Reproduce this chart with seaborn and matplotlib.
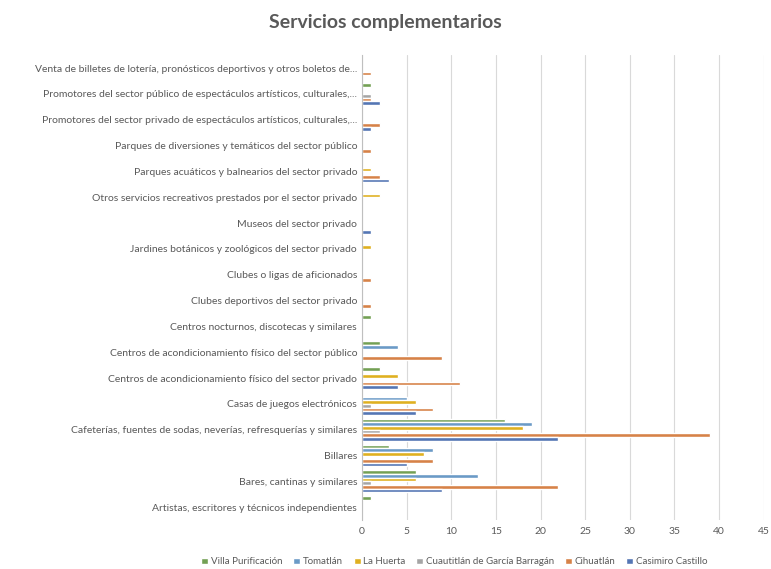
import pandas as pd
import seaborn as sns
import matplotlib.pyplot as plt

# categories, top to bottom
categorias = [
    "Venta de billetes de lotería, pronósticos deportivos y otros boletos de...",
    "Promotores del sector público de espectáculos artísticos, culturales,...",
    "Promotores del sector privado de espectáculos artísticos, culturales,...",
    "Parques de diversiones y temáticos del sector público",
    "Parques acuáticos y balnearios del sector privado",
    "Otros servicios recreativos prestados por el sector privado",
    "Museos del sector privado",
    "Jardines botánicos y zoológicos del sector privado",
    "Clubes o ligas de aficionados",
    "Clubes deportivos del sector privado",
    "Centros nocturnos, discotecas y similares",
    "Centros de acondicionamiento físico del sector público",
    "Centros de acondicionamiento físico del sector privado",
    "Casas de juegos electrónicos",
    "Cafeterías, fuentes de sodas, neverías, refresquerías y similares",
    "Billares",
    "Bares, cantinas y similares",
    "Artistas, escritores y técnicos independientes",
]

villa_purificacion = [0, 1, 0, 0, 0, 0, 0, 0, 0, 0, 1, 2, 2, 0, 16, 3, 6, 1]
tomatlan =           [0, 0, 0, 0, 0, 0, 0, 0, 0, 0, 0, 4, 0, 5, 19, 8, 13, 0]
la_huerta =          [0, 0, 0, 0, 1, 2, 0, 1, 0, 0, 0, 0, 4, 6, 18, 7, 6, 0]
cuautitlan =         [0, 1, 0, 0, 0, 0, 0, 0, 0, 0, 0, 0, 0, 1, 2, 0, 1, 0]
cihuatlan =          [1, 1, 2, 1, 2, 0, 0, 0, 1, 1, 0, 9, 11, 8, 39, 8, 22, 0]
casimiro_castillo =  [0, 2, 1, 0, 3, 0, 1, 0, 0, 0, 0, 0, 4, 6, 22, 5, 9, 0]

series = {
    "Villa Purificación": villa_purificacion,
    "Tomatlán": tomatlan,
    "La Huerta": la_huerta,
    "Cuautitlán de García Barragán": cuautitlan,
    "Cihuatlán": cihuatlan,
    "Casimiro Castillo": casimiro_castillo,
}
colores = ["#70AD47", "#5B9BD5", "#FFC000", "#A5A5A5", "#ED7D31", "#4472C4"]

rows = []
for nombre, vals in series.items():
    for cat, v in zip(categorias, vals):
        rows.append({"categoria": cat, "municipio": nombre, "valor": v})
df = pd.DataFrame(rows)

sns.set_style("white")
plt.rcParams['font.family'] = ['Lato', 'DejaVu Sans']

fig = plt.figure(figsize=(7.71, 5.69), dpi=100)
ax = fig.add_axes([0.4695, 0.086, 0.521, 0.817])

sns.barplot(data=df, x="valor", y="categoria", hue="municipio",
            order=categorias, hue_order=list(series.keys()),
            palette=colores, orient="h", width=0.85, ax=ax)

ax.set_xlim(0, 45)
ax.set_xticks(range(0, 46, 5))
ax.xaxis.grid(True, color="#D9D9D9", linewidth=0.8)
ax.set_axisbelow(True)
for s in ["top", "right", "bottom"]:
    ax.spines[s].set_visible(False)
ax.spines["left"].set_color("#BFBFBF")
ax.tick_params(axis="both", length=0, labelsize=7.5, labelcolor="#595959")
ax.tick_params(axis="x", pad=5)
ax.set_xlabel("")
ax.set_ylabel("")

ax.legend(loc="center", bbox_to_anchor=(0.23, -0.09),
          ncol=6, frameon=False, fontsize=7, handlelength=0.7, handleheight=0.7,
          columnspacing=1.1, handletextpad=0.3, labelcolor="#595959")

fig.suptitle("Servicios complementarios", x=0.5, y=0.975, fontsize=14,
             fontweight="bold", color="#595959")

fig.savefig("out.png", dpi=100)
